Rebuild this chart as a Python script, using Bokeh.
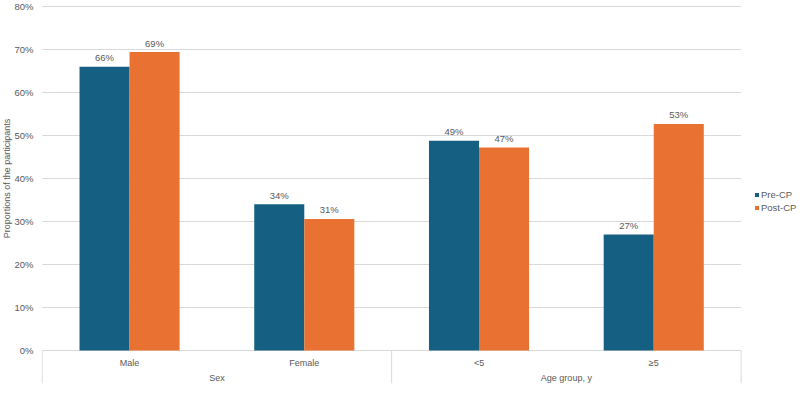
import math
from bokeh.plotting import figure
from bokeh.models import (Range1d, FixedTicker, Legend, LegendItem,
                          ColumnDataSource, Label)
from bokeh.transform import dodge
from bokeh.core.properties import value
from bokeh.embed import file_html
from bokeh.resources import INLINE

# ---- data ----
groups = ["Sex", "Sex", "Age group, y", "Age group, y"]
categories = ["Male", "Female", "<5", "≥5"]
group_names = ["Sex", "Age group, y"]
series_names = ["Pre-CP", "Post-CP"]
pre_cp = [66.0, 34.0, 48.8, 27.0]
post_cp = [69.4, 30.6, 47.2, 52.7]
y_ticks = [0, 10, 20, 30, 40, 50, 60, 70, 80]
y_tick_labels = ["0%", "10%", "20%", "30%", "40%", "50%", "60%", "70%", "80%"]
y_title = "Proportions of the participants"
colors = ["#156082", "#E97132"]

FONT = "Liberation Sans"
TXT = "#595959"
GRID = "#d9d9d9"

n = len(categories)
xc = [i + 0.5 for i in range(n)]                      # category centres
gx = [sum(xc[i] for i in range(n) if groups[i] == g) / groups.count(g) for g in group_names]
bounds = [0]
for g in group_names:
    bounds.append(bounds[-1] + groups.count(g))

y_start, y_end = -7.67, 80.23
x_range = Range1d(-0.004, n + 0.34)

p = figure(width=800, height=393, x_range=x_range, y_range=Range1d(y_start, y_end),
           output_backend="svg", toolbar_location=None, x_axis_location=None,
           min_border_left=41, min_border_right=0, min_border_top=5, min_border_bottom=10)
p.outline_line_color = None
p.background_fill_color = "white"
p.border_fill_color = "white"

src = ColumnDataSource(dict(
    x=xc, pre=pre_cp, post=post_cp,
    pre_lbl=[f"{round(v)}%" for v in pre_cp],
    post_lbl=[f"{round(v)}%" for v in post_cp],
    pre_ly=[v + 2.1 for v in pre_cp],
    post_ly=[v + 2.1 for v in post_cp],
))

# gridlines across the category area only
p.segment(x0=[bounds[0]] * len(y_ticks), x1=[bounds[-1]] * len(y_ticks),
          y0=y_ticks, y1=y_ticks, line_color=GRID, line_width=1)

off = 0.1432
bw = 0.2864
r_pre = p.vbar(x=dodge("x", -off), top="pre", width=bw, source=src,
               fill_color=colors[0], line_color=None)
r_post = p.vbar(x=dodge("x", off), top="post", width=bw, source=src,
                fill_color=colors[1], line_color=None)

for col, lab, sign in (("pre_ly", "pre_lbl", -1), ("post_ly", "post_lbl", 1)):
    p.text(x=dodge("x", sign * off), y=col, text=lab, source=src,
           text_align="center", text_baseline="middle", text_font=value(FONT),
           text_font_size="9.5px", text_color=TXT)

# y axis
p.yaxis.ticker = FixedTicker(ticks=y_ticks)
p.yaxis.major_label_overrides = {t: l for t, l in zip(y_ticks, y_tick_labels)}
p.yaxis.axis_line_color = None
p.yaxis.major_tick_line_color = None
p.yaxis.minor_tick_line_color = None
p.yaxis.major_tick_out = 0
p.yaxis.major_tick_in = 0
p.yaxis.minor_tick_out = 0
p.yaxis.minor_tick_in = 0
p.yaxis.major_label_standoff = 8
p.yaxis.major_label_text_font = FONT
p.yaxis.major_label_text_font_size = "9.5px"
p.yaxis.major_label_text_color = TXT
p.ygrid.visible = False
p.xgrid.visible = False

p.add_layout(Label(x=0, x_units="screen", y=40, y_units="data", text=y_title,
                   angle=math.pi / 2, text_align="center", text_baseline="top",
                   text_font=FONT, text_font_size="9px", text_color=TXT), "left")

# category box below the zero line
p.segment(x0=bounds, y0=[0] * len(bounds), x1=bounds, y1=[y_start] * len(bounds),
          line_color=GRID, line_width=1)
p.text(x=xc, y=[-2.8] * n, text=categories, text_align="center",
       text_baseline="middle", text_font=value(FONT), text_font_size="9px", text_color=TXT)
p.text(x=gx, y=[-6.5] * len(group_names), text=group_names, text_align="center",
       text_baseline="middle", text_font=value(FONT), text_font_size="9px", text_color=TXT)

legend = Legend(items=[LegendItem(label=series_names[0], renderers=[r_pre]),
                       LegendItem(label=series_names[1], renderers=[r_post])],
                location=(713, 170.5), glyph_width=5, glyph_height=5, label_height=5,
                label_width=10, spacing=2, padding=0, margin=0, label_standoff=2,
                label_text_font=FONT, label_text_font_size="9.5px", label_text_color=TXT,
                border_line_color=None, background_fill_alpha=0)
p.add_layout(legend)

open("out.html", "w").write(file_html(p, INLINE))
